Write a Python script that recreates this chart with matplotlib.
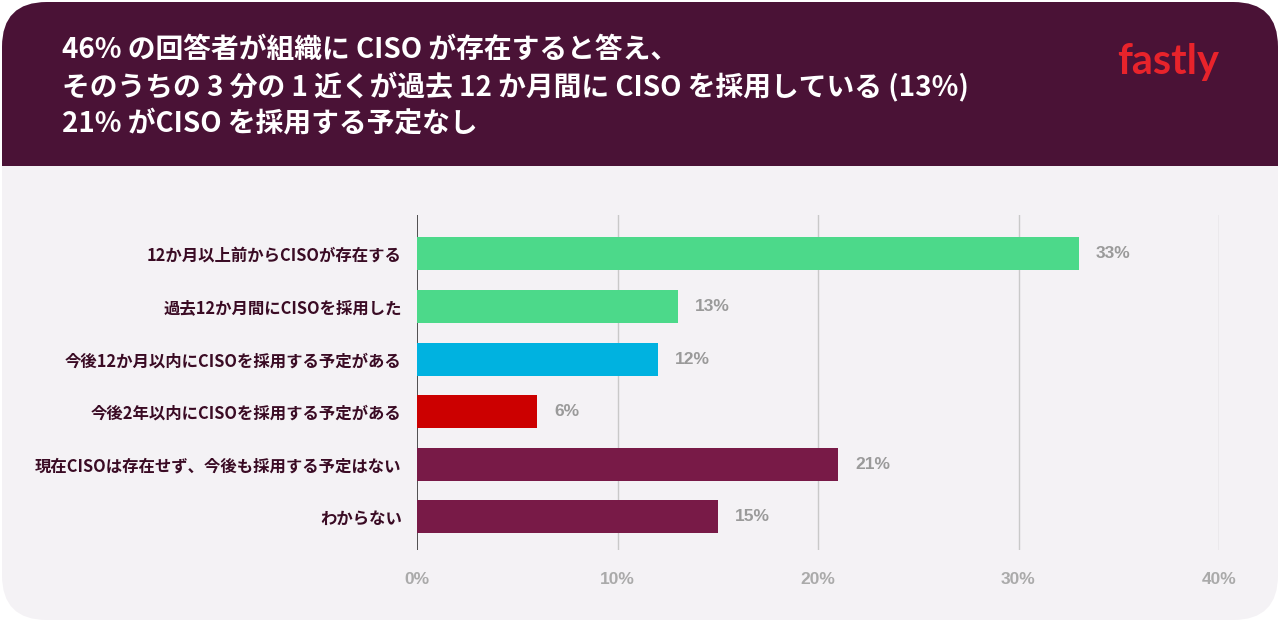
import matplotlib
matplotlib.use("Agg")
import matplotlib.pyplot as plt
from matplotlib.patches import FancyBboxPatch, Rectangle
from matplotlib.ticker import FuncFormatter

plt.rcParams['font.family'] = ['Noto Sans CJK JP', 'DejaVu Sans']

title_lines = [
    "46% の回答者が組織に CISO が存在すると答え、",
    "そのうちの 3 分の 1 近くが過去 12 か月間に CISO を採用している (13%)",
    "21% がCISO を採用する予定なし",
]
categories = [
    "12か月以上前からCISOが存在する",
    "過去12か月間にCISOを採用した",
    "今後12か月以内にCISOを採用する予定がある",
    "今後2年以内にCISOを採用する予定がある",
    "現在CISOは存在せず、今後も採用する予定はない",
    "わからない",
]
values = [33, 13, 12, 6, 21, 15]
bar_colors = ["#4cd98a", "#4cd98a", "#00b2e0", "#cc0000", "#781a47", "#781a47"]
xticks = [0, 10, 20, 30, 40]

W, H = 1280, 622
fig = plt.figure(figsize=(12.8, 6.22), dpi=100)
fig.patch.set_facecolor("white")

# card background
card = FancyBboxPatch((2 / W, 2 / H), 1 - 4 / W, 1 - 4 / H,
                      boxstyle="round,pad=0,rounding_size=0.035",
                      transform=fig.transFigure, facecolor="#f4f2f5",
                      edgecolor="none", mutation_aspect=W / H, zorder=0)
fig.patches.append(card)
hdr_bottom = 1 - 166 / H
hdr = FancyBboxPatch((2 / W, hdr_bottom - 0.08), 1 - 4 / W, 1 - 2 / H - (hdr_bottom - 0.08),
                     boxstyle="round,pad=0,rounding_size=0.035",
                     transform=fig.transFigure, facecolor="#4a1236",
                     edgecolor="none", mutation_aspect=W / H, zorder=1)
fig.patches.append(hdr)
cover = Rectangle((2 / W, hdr_bottom - 0.09), 1 - 4 / W, 0.09,
                  transform=fig.transFigure, facecolor="#f4f2f5",
                  edgecolor="none", zorder=2)
fig.patches.append(cover)

for i, line in enumerate(title_lines):
    fig.text(62 / W, 1 - (50 + 37 * i) / H, line, color="white",
             fontsize=20, fontweight="bold", va="center", ha="left", zorder=5)

fig.text(1168 / W, 1 - 62 / H, "fastly", color="#e8232b", fontsize=30,
         fontweight="bold", va="center", ha="center",
         family=["Lato", "DejaVu Sans"], zorder=5)

# axes
left, right = 417 / W, 1219 / W
top, bottom = 1 - 215 / H, 1 - 550 / H
ax = fig.add_axes([left, bottom, right - left, top - bottom], zorder=10)
ax.set_facecolor("none")
ax.patch.set_alpha(0)

ypos = list(range(len(categories)))
bars = ax.barh(ypos, values, height=0.63, color=bar_colors, zorder=3)
ax.set_xlim(0, 40)
ax.set_ylim(5.63, -0.74)
ax.set_xticks(xticks)
ax.xaxis.set_major_formatter(FuncFormatter(lambda v, p: f"{int(v)}%"))
for t in xticks:
    ax.axvline(t, color="#333333" if t == 0 else "#c9c9c9",
               lw=1.2 if t == 0 else 1.0, zorder=2)
ax.set_yticks(ypos)
ax.set_yticklabels(categories, fontsize=11.8, fontweight="bold", color="#3a0b24")
ax.tick_params(axis="y", length=0, pad=11)
ax.tick_params(axis="x", length=0, pad=16, labelsize=12.5, labelcolor="#aaaaaa")
for lbl in ax.get_xticklabels():
    lbl.set_fontweight("bold")
    lbl.set_family(["Liberation Sans Narrow", "Liberation Sans", "DejaVu Sans"])
for s in ax.spines.values():
    s.set_visible(False)

for b, v in zip(bars, values):
    ax.annotate(f"{v}%", (v, b.get_y() + b.get_height() / 2),
                xytext=(17, 0), textcoords="offset pixels",
                va="center", ha="left", fontsize=12.5, fontweight="bold",
                color="#9a9a9a", family=["Liberation Sans", "DejaVu Sans"])

fig.savefig("out.png", dpi=100, facecolor=fig.get_facecolor())
